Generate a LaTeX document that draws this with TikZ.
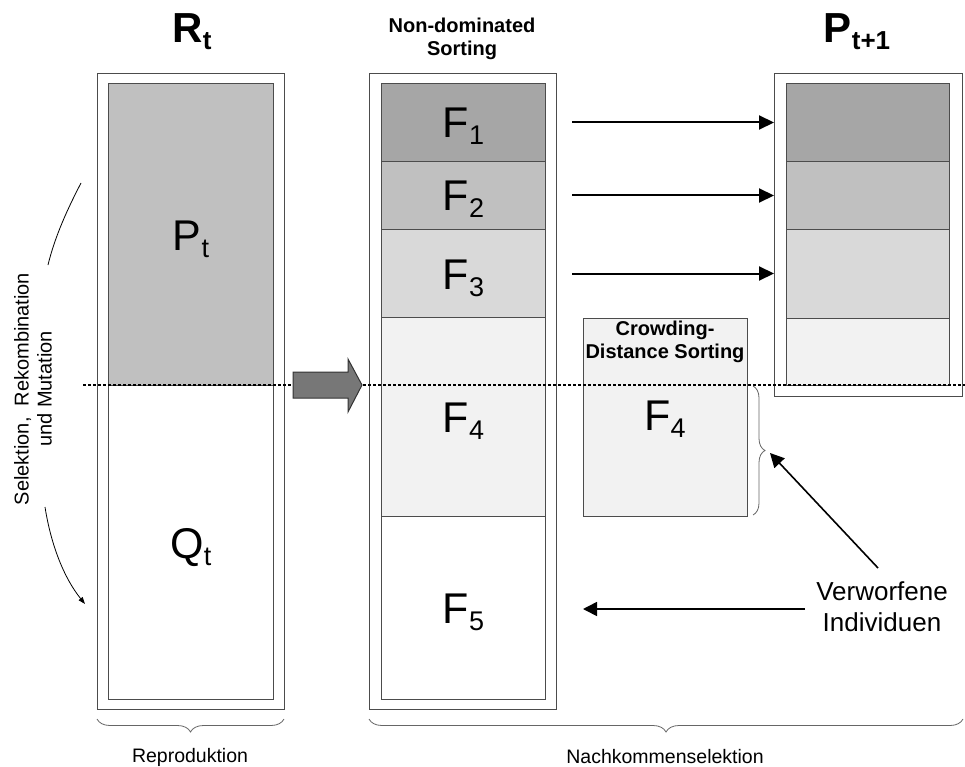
\documentclass[tikz,border=0pt]{standalone}
\usepackage{fontspec}
\setmainfont{Liberation Sans}
\usetikzlibrary{arrows.meta,decorations.pathreplacing,calc}
% lowered, smaller index: size, drop, text
\newcommand{\lowidx}[3]{\raisebox{-#2}{\fontsize{#1}{#1}\selectfont #3}}
\newcommand{\fidx}[1]{\lowidx{27}{7pt}{#1}}
\definecolor{fone}{HTML}{A6A6A6}
\definecolor{ftwo}{HTML}{C0C0C0}
\definecolor{fthree}{HTML}{D9D9D9}
\definecolor{ffour}{HTML}{F2F2F2}
\definecolor{arrowgray}{HTML}{777777}
\begin{document}
\begin{tikzpicture}[x=1pt,y=-1pt,
  outerbox/.style={draw=black!70, line width=1pt, fill=white, anchor=north west, inner sep=0pt},
  band/.style={draw=black!70, line width=1pt, anchor=north west, inner sep=0pt,
    text height=31pt, text depth=0pt, font=\fontsize{43}{43}\selectfont},
  arr/.style={line width=2pt, -{Triangle[length=15pt,width=14pt]}},
  thinarr/.style={line width=1.6pt, -{Triangle[length=14pt,width=14pt]}},
  bracebot/.style={decorate, decoration={brace, mirror, amplitude=13pt}, draw=black!60, line width=0.8pt},
  braceright/.style={decorate, decoration={brace, amplitude=12pt}, draw=black!60, line width=0.8pt},
  smalltext/.style={font=\fontsize{19.5}{23}\selectfont, align=center},
  boldtext/.style={font=\bfseries\fontsize{20}{23}\selectfont, align=center},
  titletext/.style={font=\bfseries\fontsize{42}{42}\selectfont, anchor=base},
]
\useasboundingbox (0,0) rectangle (965,767);

% ---- population R_t ----
\node[outerbox, minimum width=187pt, minimum height=636pt] (Rout) at (97,73) {};
\node[band, fill=ftwo, minimum width=165pt, minimum height=302pt] (Pt) at (108,83)
  {P\fidx{t}};
\node[band, fill=white, minimum width=165pt, minimum height=314pt] (Qt) at (108,385)
  {Q\fidx{t}};
\node[titletext] (Rtitle) at (192,43) {R\lowidx{26}{7pt}{t}};

% ---- fronts after non-dominated sorting ----
\node[outerbox, minimum width=187pt, minimum height=636pt] (Mout) at (369,73) {};
\node[band, fill=fone, minimum width=164pt, minimum height=78pt] (F1) at (381,83) {F\fidx{1}};
\node[band, fill=ftwo, minimum width=164pt, minimum height=68pt] (F2) at (381,161) {F\fidx{2}};
\node[band, fill=fthree, minimum width=164pt, minimum height=88pt] (F3) at (381,229) {F\fidx{3}};
\node[band, fill=ffour, minimum width=164pt, minimum height=199pt] (F4) at (381,317) {F\fidx{4}};
\node[band, fill=white, minimum width=164pt, minimum height=183pt] (F5) at (381,516) {F\fidx{5}};
\node[boldtext] (nds) at (462,39) {Non-dominated\\Sorting};

% ---- new population P_{t+1} ----
\node[outerbox, minimum width=188pt, minimum height=323pt] (Nout) at (774,73) {};
\node[band, fill=fone, minimum width=163pt, minimum height=78pt] (N1) at (786,83) {};
\node[band, fill=ftwo, minimum width=163pt, minimum height=68pt] (N2) at (786,161) {};
\node[band, fill=fthree, minimum width=163pt, minimum height=89pt] (N3) at (786,229) {};
\node[band, fill=ffour, minimum width=163pt, minimum height=67pt] (N4) at (786,318) {};
\node[titletext] (Ntitle) at (857,43) {P\lowidx{26}{7pt}{t+1}};

% ---- crowding distance sorting of F4 ----
\node[outerbox, fill=ffour, minimum width=164pt, minimum height=198pt] (cds) at (583,318) {};
\node[boldtext] (cdstitle) at (665,342) {Crowding-\\Distance Sorting};
\node[font=\fontsize{43}{43}\selectfont, text height=31pt, text depth=0pt] (cdsF) at (665,415)
  {F\fidx{4}};

% ---- dotted cut line and transfer arrow ----
\coordinate (cutL) at (83,385);
\coordinate (cutR) at (965,385);
\draw[line width=1.5pt, dash pattern=on 3pt off 2pt] (cutL) -- (cutR);
\draw[fill=arrowgray, draw=black!80, line width=1pt]
  (293,372) -- (348,372) -- (348,359) -- (362,385) -- (348,412) -- (348,398) -- (293,398) -- cycle;

% ---- fronts copied into P_{t+1} ----
\draw[arr] ($(Mout.east |- F1)+(15,0)$) -- (Nout.west |- F1);
\draw[arr] ($(Mout.east |- F2)+(15,0)$) -- (Nout.west |- F2);
\draw[arr] ($(Mout.east |- F3)+(15,0)$) -- (Nout.west |- F3);

% ---- discarded individuals ----
\node[font=\fontsize{26}{31}\selectfont, align=center] (verw) at (882,607) {Verworfene\\Individuen};
\coordinate (vtop) at (878,568);
\coordinate (vleft) at (805,609);
\coordinate (btip) at (770,453);
\draw[braceright] (753,386) -- (753,515);
\draw[thinarr] (vtop) -- (btip);
\draw[thinarr] (vleft) -- (cds.west |- vleft);

% ---- variation arc ----
\coordinate (arcA) at (81,183);
\coordinate (arcB) at (48,265);
\coordinate (arcC) at (45,507);
\coordinate (arcD) at (85,604);
\draw[line width=0.8pt] (arcA) .. controls (68,208) and (55,236) .. (arcB);
\draw[line width=0.8pt, -{Triangle[length=7pt,width=5pt]}] (arcC) .. controls (51,545) and (64,578) .. (arcD);
\node[smalltext, rotate=90, font=\fontsize{20}{23}\selectfont] (varlabel) at (33,389)
  {Selektion, \ Rekombination\\und Mutation};

% ---- phase braces ----
\draw[bracebot] (97,719) -- (284,719);
\draw[bracebot] (369,719) -- (963,719);
\node[smalltext] (repro) at (190,757) {Reproduktion};
\node[smalltext] (selekt) at (665,757) {Nachkommenselektion};
\end{tikzpicture}
\end{document}
